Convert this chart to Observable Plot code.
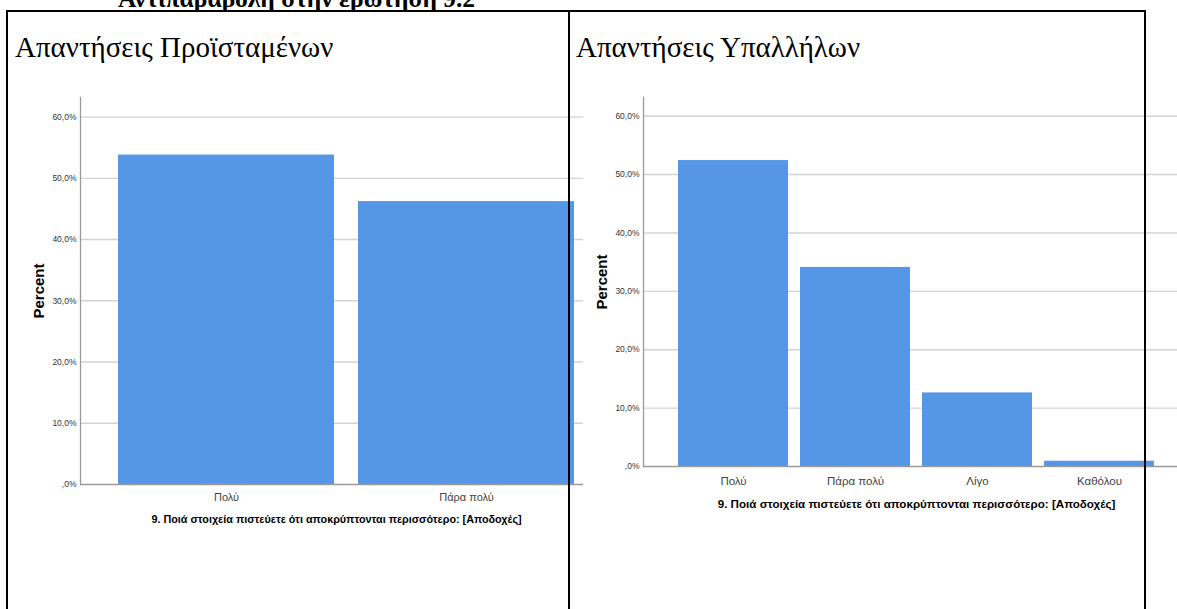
<!DOCTYPE html>
<html>
<head>
<meta charset="utf-8">
<script src="https://cdn.jsdelivr.net/npm/d3@7"></script>
<script src="https://cdn.jsdelivr.net/npm/@observablehq/plot@0.6"></script>
<style>
  html, body { margin: 0; padding: 0; background: #fff; }
  #page { position: relative; width: 1177px; height: 609px; overflow: hidden; background: #fff; }
  #page svg { position: absolute; left: 0; top: 0; }
  .serif { position: absolute; font-family: "Liberation Serif", "Times New Roman", serif; color: #000; white-space: nowrap; }
  .line { position: absolute; background: #000; z-index: 5; }
</style>
</head>
<body>
<div id="page"></div>
<script>
// ---- data ----
const pageTitle = "Αντιπαραβολή στην ερώτηση 9.2";
const panelTitles = ["Απαντήσεις Προϊσταμένων", "Απαντήσεις Υπαλλήλων"];
const supCategories = ["Πολύ", "Πάρα πολύ"];
const supValues = [53.8, 46.2];
const empCategories = ["Πολύ", "Πάρα πολύ", "Λίγο", "Καθόλου"];
const empValues = [52.4, 34.1, 12.6, 0.9];
const yTicks = [0, 10, 20, 30, 40, 50, 60];
const xTitle = "9. Ποιά στοιχεία πιστεύετε ότι αποκρύπτονται περισσότερο: [Αποδοχές]";
const yTitle = "Percent";

const fmt = d => d === 0 ? ",0%" : d.toFixed(1).replace(".", ",") + "%";

function chart(cats, vals, o) {
  const data = cats.map((c, i) => ({cat: c, pct: vals[i]}));
  return Plot.plot({
    width: 1177, height: 609,
    marginLeft: o.ml, marginRight: o.mr, marginTop: 97, marginBottom: 609 - o.base,
    style: {background: "transparent", fontFamily: "'Liberation Sans', Arial, sans-serif", fontSize: "8.5px", color: "#333", overflow: "visible"},
    x: {domain: cats, range: o.xr, padding: 0.1},
    y: {domain: [0, 63.2], nice: false},
    marks: [
      Plot.ruleY(yTicks.filter(d => d > 0), {stroke: "#d3d3d3", strokeWidth: 1.4}),
      Plot.barY(data, {x: "cat", y: "pct", fill: "#5596e6"}),
      Plot.ruleY([0], {stroke: "#9a9a9a", strokeWidth: 1.3}),
      Plot.frame({anchor: "left", stroke: "#9a9a9a", strokeWidth: 1.3}),
      Plot.axisY({ticks: yTicks, tickSize: 0, tickPadding: 4, tickFormat: fmt, label: null, fontSize: 8.5, fill: "#333"}),
      Plot.axisX({tickSize: 0, tickPadding: o.tp, label: null, fontSize: o.xfs, fill: "#444"}),
      Plot.text([xTitle], {text: d => d, frameAnchor: "bottom", dx: o.tdx, dy: o.tdy, fontWeight: "bold", fontSize: o.tfs, fill: "#000"}),
      Plot.text([yTitle], {text: d => d, frameAnchor: "left", textAnchor: "middle", dx: -41, rotate: -90, fontWeight: "bold", fontSize: 15, fill: "#000"})
    ]
  });
}

const page = document.getElementById("page");

page.appendChild(chart(supCategories, supValues, {
  ml: 80, mr: 1177 - 583, base: 484, xr: [94, 598], tp: 9, xfs: 11, tdx: 4.5, tdy: 38, tfs: 10.8
}));
page.appendChild(chart(empCategories, empValues, {
  ml: 643, mr: 0, base: 466, xr: [665, 1167], tp: 10, xfs: 11.5, tdx: 6, tdy: 41, tfs: 11.6
}));

// page title (cut at top) and panel titles
function addText(txt, left, top, size, bold) {
  const d = document.createElement("div");
  d.className = "serif";
  d.textContent = txt;
  d.style.left = left + "px";
  d.style.top = top + "px";
  d.style.fontSize = size + "px";
  d.style.lineHeight = size + "px";
  if (bold) d.style.fontWeight = "bold";
  page.appendChild(d);
}
addText(pageTitle, 118, -14, 25.5, true);
addText(panelTitles[0], 15, 33, 29, false);
addText(panelTitles[1], 576, 33, 29, false);

// table borders
function addLine(l, t, w, h) {
  const d = document.createElement("div");
  d.className = "line";
  d.style.left = l + "px"; d.style.top = t + "px";
  d.style.width = w + "px"; d.style.height = h + "px";
  page.appendChild(d);
}
addLine(6, 10, 1140, 2);
addLine(6, 10, 2, 600);
addLine(568, 10, 2, 600);
addLine(1144, 10, 2, 600);
</script>
</body>
</html>
